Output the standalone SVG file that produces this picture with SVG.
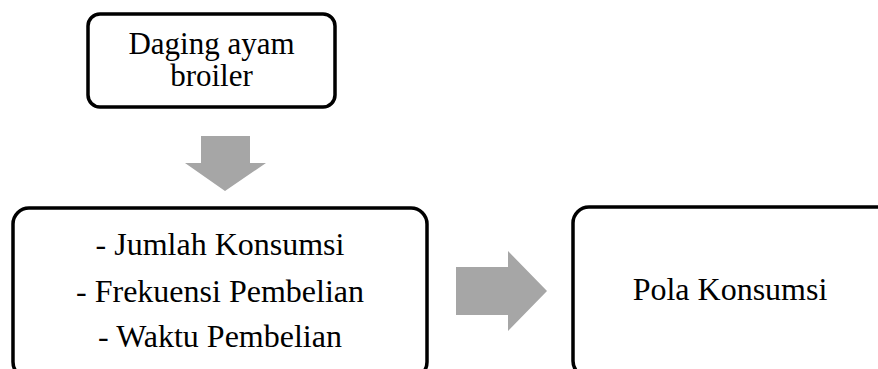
<svg xmlns="http://www.w3.org/2000/svg" width="878" height="369" viewBox="0 0 878 369">
<style>
.box{fill:#fff;stroke:#000;stroke-width:3.5}
.arrow{fill:#a6a6a6;stroke:none}
text{font-family:"Liberation Serif","Times New Roman",serif;font-size:32px;fill:#000;text-anchor:middle}
.small{font-size:31px}
</style>
<rect width="878" height="369" fill="#fff"/>
<g id="node-daging">
<rect class="box" x="88" y="14" width="247" height="93" rx="12"/>
<text class="small" x="211.5" y="54">Daging ayam</text>
<text class="small" x="211.5" y="86">broiler</text>
</g>
<g id="node-variabel">
<rect class="box" x="13" y="208" width="414" height="170" rx="16"/>
<text x="220" y="255">- Jumlah Konsumsi</text>
<text x="220" y="302">- Frekuensi Pembelian</text>
<text x="220" y="347">- Waktu Pembelian</text>
</g>
<g id="node-pola">
<rect class="box" x="573" y="207" width="330" height="170" rx="16"/>
<text x="730" y="300">Pola Konsumsi</text>
</g>
<g id="connectors">
<polygon class="arrow" points="201,136 250,136 250,163 266,163 225,191 185,163 201,163"/>
<polygon class="arrow" points="456,267 508,267 508,251 547,291 508,331 508,315 456,315"/>
</g>
</svg>
